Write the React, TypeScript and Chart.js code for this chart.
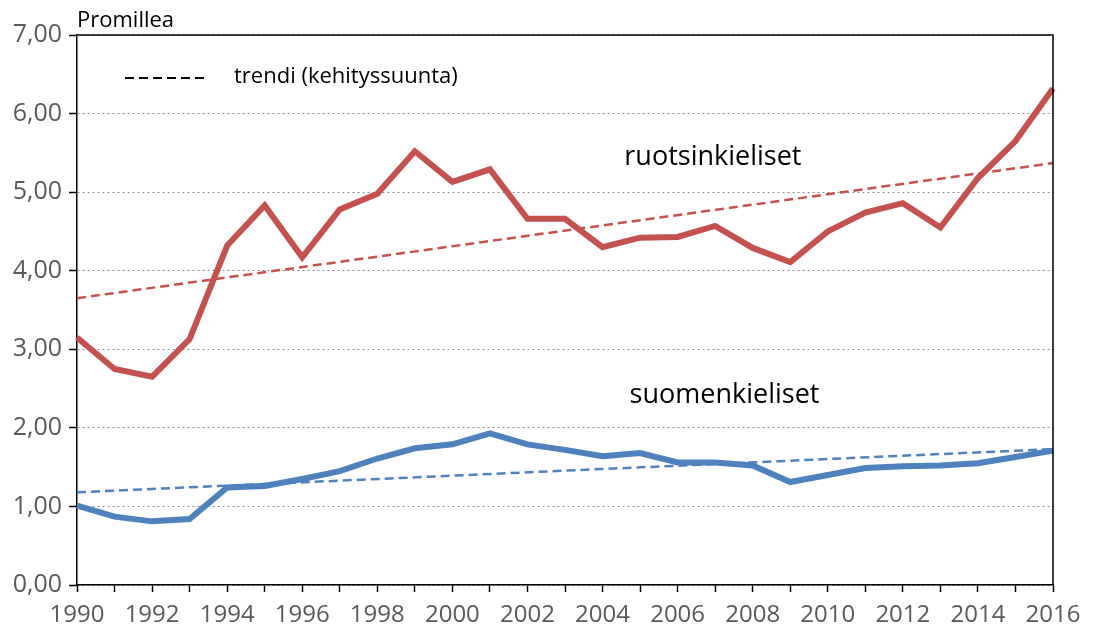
import React, { useEffect, useRef } from "react";
import { Chart, registerables } from "chart.js";

Chart.register(...registerables);

const years = [
  "1990", "1991", "1992", "1993", "1994", "1995", "1996", "1997", "1998", "1999",
  "2000", "2001", "2002", "2003", "2004", "2005", "2006", "2007", "2008", "2009",
  "2010", "2011", "2012", "2013", "2014", "2015", "2016",
];

const ruotsinkieliset = [
  3.15, 2.75, 2.65, 3.13, 4.32, 4.83, 4.17, 4.78, 4.98, 5.52,
  5.13, 5.29, 4.66, 4.66, 4.30, 4.42, 4.43, 4.57, 4.29, 4.11,
  4.50, 4.74, 4.86, 4.55, 5.18, 5.65, 6.32,
];

const suomenkieliset = [
  1.01, 0.87, 0.81, 0.84, 1.24, 1.26, 1.35, 1.45, 1.61, 1.74,
  1.79, 1.93, 1.79, 1.72, 1.64, 1.68, 1.56, 1.56, 1.52, 1.31,
  1.40, 1.49, 1.51, 1.52, 1.55, 1.63, 1.71,
];

// trend line start (1990) and end (2016) values
const trendRuotsi = [3.65, 5.37];
const trendSuomi = [1.18, 1.73];

const yTicks = [0, 1, 2, 3, 4, 5, 6, 7];

const RED = "#C4514E";
const BLUE = "#4F81BD";
const FONT = "'Open Sans', 'Noto Sans', sans-serif";

function trendData(ends: number[]) {
  return years.map((_, i) => (i === 0 ? ends[0] : i === years.length - 1 ? ends[1] : null));
}

const annotationPlugin = {
  id: "annotations",
  afterDraw(chart: any) {
    const { ctx, chartArea } = chart;
    const xs = chart.scales.x;
    const ys = chart.scales.y;
    ctx.save();
    // frame top and right
    ctx.strokeStyle = "#000";
    ctx.lineWidth = 1.5;
    ctx.setLineDash([]);
    ctx.beginPath();
    ctx.moveTo(chartArea.left, chartArea.top);
    ctx.lineTo(chartArea.right, chartArea.top);
    ctx.lineTo(chartArea.right, chartArea.bottom);
    ctx.stroke();

    // unit title
    ctx.fillStyle = "#000";
    ctx.font = `22px ${FONT}`;
    ctx.textAlign = "left";
    ctx.textBaseline = "alphabetic";
    ctx.fillText("Promillea", chartArea.left, 27);

    // legend for trend
    const ly = chartArea.top + 43;
    ctx.strokeStyle = "#000";
    ctx.lineWidth = 2;
    ctx.setLineDash([9, 5]);
    ctx.beginPath();
    ctx.moveTo(chartArea.left + 48, ly);
    ctx.lineTo(chartArea.left + 132, ly);
    ctx.stroke();
    ctx.setLineDash([]);
    ctx.font = `22px ${FONT}`;
    ctx.textBaseline = "middle";
    ctx.fillText("trendi (kehityssuunta)", chartArea.left + 157, ly - 1);

    // series labels
    ctx.font = `27px ${FONT}`;
    ctx.textAlign = "center";
    ctx.textBaseline = "middle";
    ctx.fillText("ruotsinkieliset", xs.getPixelForValue(16.94), ys.getPixelForValue(5.44));
    ctx.fillText("suomenkieliset", xs.getPixelForValue(17.25), ys.getPixelForValue(2.41));
    ctx.restore();
  },
};

export default function App() {
  const ref = useRef<HTMLCanvasElement | null>(null);

  useEffect(() => {
    if (!ref.current) return;
    const chart = new Chart(ref.current, {
      type: "line",
      data: {
        labels: years,
        datasets: [
          {
            label: "ruotsinkieliset",
            data: ruotsinkieliset,
            borderColor: RED,
            borderWidth: 6,
            pointRadius: 0,
            tension: 0,
            order: 3,
          },
          {
            label: "suomenkieliset",
            data: suomenkieliset,
            borderColor: BLUE,
            borderWidth: 6,
            pointRadius: 0,
            tension: 0,
            order: 4,
          },
          {
            label: "trendi ruotsi",
            data: trendData(trendRuotsi),
            borderColor: RED,
            borderWidth: 2.5,
            borderDash: [9, 5],
            pointRadius: 0,
            spanGaps: true,
            order: 1,
          },
          {
            label: "trendi suomi",
            data: trendData(trendSuomi),
            borderColor: BLUE,
            borderWidth: 2.5,
            borderDash: [9, 5],
            pointRadius: 0,
            spanGaps: true,
            order: 2,
          },
        ],
      },
      options: {
        animation: false,
        responsive: true,
        maintainAspectRatio: false,
        layout: { padding: { top: 35, right: 42, left: 0, bottom: 0 } },
        plugins: { legend: { display: false }, tooltip: { enabled: false } },
        scales: {
          x: {
            type: "category",
            afterFit: (s: any) => {
              s.height = 43;
            },
            grid: {
              display: true,
              drawOnChartArea: false,
              drawTicks: true,
              tickLength: 7,
              tickColor: "#000",
              tickWidth: 1.5,
            },
            border: { display: true, color: "#000", width: 1.5 },
            ticks: {
              autoSkip: false,
              maxRotation: 0,
              minRotation: 0,
              padding: 9,
              color: "#595959",
              font: { family: FONT, size: 24 },
              callback: (_v: any, i: number) => (i % 2 === 0 ? years[i] : ""),
            },
          },
          y: {
            min: yTicks[0],
            max: yTicks[yTicks.length - 1],
            afterFit: (s: any) => {
              s.width = 77;
            },
            afterBuildTicks: (s: any) => {
              s.ticks = yTicks.map((v) => ({ value: v }));
            },
            grid: {
              display: true,
              drawOnChartArea: true,
              drawTicks: true,
              tickLength: 8,
              tickColor: "#000",
              tickWidth: 1.5,
              tickBorderDash: [],
              color: "#8c8c8c",
              lineWidth: 1,
            },
            border: { display: true, color: "#000", width: 1.5, dash: [2, 3] },
            ticks: {
              padding: 7,
              color: "#595959",
              font: { family: FONT, size: 25 },
              callback: (v: any) => Number(v).toFixed(2).replace(".", ","),
            },
          },
        },
      },
      plugins: [annotationPlugin],
    });
    return () => chart.destroy();
  }, []);

  return (
    <div style={{ position: "fixed", left: 0, top: 0, width: 1095, height: 628, background: "#fff" }}>
      <canvas ref={ref} />
    </div>
  );
}
